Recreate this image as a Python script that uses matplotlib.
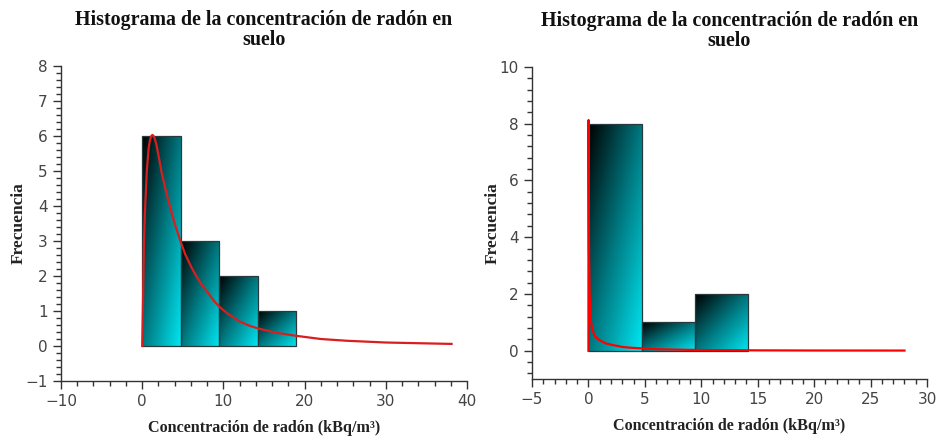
import matplotlib

matplotlib.use("Agg")
import matplotlib.pyplot as plt
import numpy as np
from matplotlib.colors import LinearSegmentedColormap
from matplotlib.patches import Rectangle
from matplotlib.ticker import MultipleLocator

# ---- data ----
title = "Histograma de la concentración de radón en\nsuelo"
xlabel = "Concentración de radón (kBq/m³)"
ylabel = "Frecuencia"

# left panel
left_edges = [0, 4.75, 9.5, 14.25, 19.0]
left_counts = [6, 3, 2, 1]
left_curve_x = [0, 0.08, 0.15, 0.22, 0.37, 0.57, 0.78, 0.95, 1.1, 1.25, 1.4,
                1.55, 1.75, 2.0, 2.4, 2.9, 3.4, 4.0, 4.7, 5.3, 6.0, 6.6, 7.3,
                8.0, 8.8, 9.5, 10.5, 12.0, 13.2, 14.3, 16.5, 19.0,
                22.0, 25.2, 30.0, 34.0, 38.1]
left_curve_y = [0, 1.0, 2.0, 3.0, 4.0, 5.0, 5.62, 5.88, 5.99, 6.03, 6.0,
                5.92, 5.75, 5.45, 4.95, 4.45, 4.0, 3.5, 3.0, 2.62, 2.28, 2.02,
                1.76, 1.55, 1.3, 1.12, 0.93, 0.7, 0.58, 0.5, 0.38, 0.29,
                0.2, 0.15, 0.1, 0.08, 0.06]

# right panel
right_edges = [0, 4.7, 9.4, 14.1]
right_counts = [8, 1, 2]
right_curve_x = [0, 0.01, 0.05, 0.1, 0.2, 0.33, 0.6, 0.9, 1.5, 2.0, 3.0, 3.8,
                 6.0, 10.0, 15.0, 20.0, 28.0]
right_curve_y = [0, 8.13, 3.5, 2.0, 1.1, 0.74, 0.5, 0.39, 0.26, 0.21, 0.13,
                 0.1, 0.05, 0.02, 0.01, 0.005, 0.003]

grad_cmap = LinearSegmentedColormap.from_list(
    "bar", ["#000000", "#00767e", "#00e6f2"])

serif = "Liberation Serif"


def gradient_bars(ax, edges, counts):
    n = 64
    u = np.linspace(0, 1, n)
    grad = (u[None, :] + u[:, None]) / 2  # top-left dark, bottom-right bright
    for x0, x1, h in zip(edges[:-1], edges[1:], counts):
        rect = Rectangle((x0, 0), x1 - x0, h, facecolor="none",
                         edgecolor="#2a3a3c", lw=0.9, zorder=3)
        ax.add_patch(rect)
        im = ax.imshow(grad, extent=[x0, x1, 0, h], origin="upper",
                       cmap=grad_cmap, aspect="auto", zorder=2)
        im.set_clip_path(rect)


def style_axes(ax, xlim, ylim, xmaj, xmin, ymaj, ymin):
    ax.set_xlim(*xlim)
    ax.set_ylim(*ylim)
    ax.set_aspect("auto")
    for s in ("top", "right"):
        ax.spines[s].set_visible(False)
    for s in ("left", "bottom"):
        ax.spines[s].set_color("#333333")
        ax.spines[s].set_linewidth(1.0)
    ax.xaxis.set_major_locator(MultipleLocator(xmaj))
    ax.xaxis.set_minor_locator(MultipleLocator(xmin))
    ax.yaxis.set_major_locator(MultipleLocator(ymaj))
    ax.yaxis.set_minor_locator(MultipleLocator(ymin))
    ax.tick_params(which="major", length=6, width=1, color="#333333",
                   labelsize=11, labelcolor="#444444", direction="out")
    ax.tick_params(which="minor", length=3.5, width=1, color="#333333",
                   direction="out")
    ax.set_title(title, fontsize=14.4, fontweight="bold", family=serif,
                 color="#111111", pad=15, linespacing=1.0)
    ax.set_xlabel(xlabel, fontsize=11.6, fontweight="bold", family=serif,
                  color="#222222", labelpad=8)
    ax.set_ylabel(ylabel, fontsize=12.5, fontweight="bold", family=serif,
                  color="#222222", labelpad=-1)


fig = plt.figure(figsize=(9.37, 4.37), dpi=100)

ax1 = fig.add_axes([0.0651, 0.1281, 0.4333, 0.721])
gradient_bars(ax1, left_edges, left_counts)
ax1.plot(left_curve_x, left_curve_y, color="#d81e1e", lw=1.6, zorder=4)
style_axes(ax1, (-10, 40), (-1, 8), 10, 2, 1, 0.2)

ax2 = fig.add_axes([0.5678, 0.1327, 0.4216, 0.714])
gradient_bars(ax2, right_edges, right_counts)
ax2.plot(right_curve_x, right_curve_y, color="#ff0000", lw=1.6, zorder=4)
style_axes(ax2, (-5, 30), (-1, 10), 5, 1, 2, 0.4)

fig.savefig("out.png", dpi=100)
